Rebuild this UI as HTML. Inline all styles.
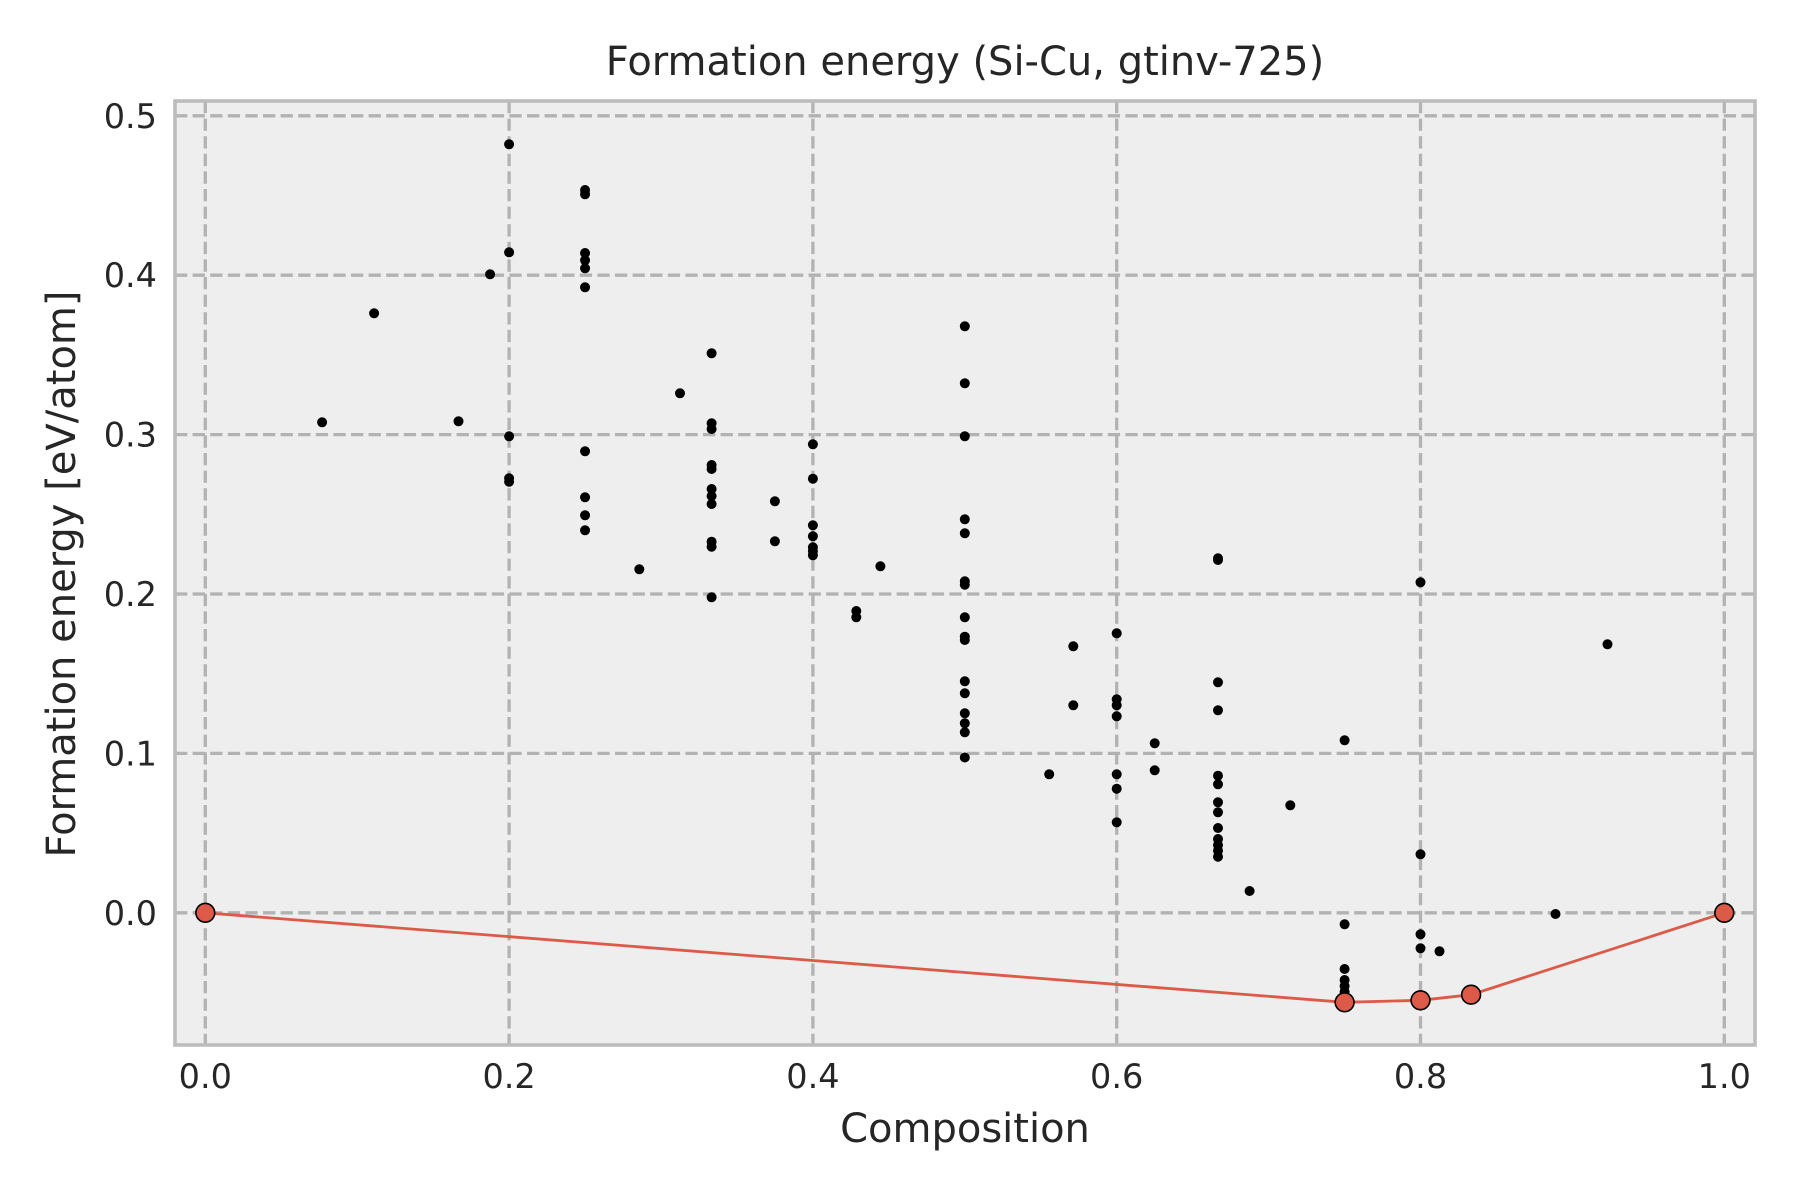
<!DOCTYPE html>
<html><head><meta charset="utf-8"><style>
html,body{margin:0;padding:0;background:#fff;}
svg{display:block;}
text{font-family:"DejaVu Sans","Liberation Sans",sans-serif;fill:#262626;}
</style></head><body>
<svg width="1800" height="1200" viewBox="0 0 1800 1200" xmlns="http://www.w3.org/2000/svg">
<rect x="0" y="0" width="1800" height="1200" fill="#fff"/>
<rect x="175" y="101" width="1580" height="944" fill="#eeeeee"/>
<g stroke="#b2b2b2" stroke-width="3.3" stroke-dasharray="12.3 5.3" fill="none">
<line x1="175" y1="912.8" x2="1755" y2="912.8"/>
<line x1="175" y1="753.4" x2="1755" y2="753.4"/>
<line x1="175" y1="594.0" x2="1755" y2="594.0"/>
<line x1="175" y1="434.6" x2="1755" y2="434.6"/>
<line x1="175" y1="275.2" x2="1755" y2="275.2"/>
<line x1="175" y1="115.8" x2="1755" y2="115.8"/>
<line x1="205.3" y1="101" x2="205.3" y2="1045"/>
<line x1="509.1" y1="101" x2="509.1" y2="1045"/>
<line x1="812.9" y1="101" x2="812.9" y2="1045"/>
<line x1="1116.7" y1="101" x2="1116.7" y2="1045"/>
<line x1="1420.5" y1="101" x2="1420.5" y2="1045"/>
<line x1="1724.3" y1="101" x2="1724.3" y2="1045"/>
</g>
<g stroke="#b5b5b5" stroke-width="2">
<line x1="205.3" y1="101" x2="205.3" y2="109"/><line x1="205.3" y1="1045" x2="205.3" y2="1037"/>
<line x1="509.1" y1="101" x2="509.1" y2="109"/><line x1="509.1" y1="1045" x2="509.1" y2="1037"/>
<line x1="812.9" y1="101" x2="812.9" y2="109"/><line x1="812.9" y1="1045" x2="812.9" y2="1037"/>
<line x1="1116.7" y1="101" x2="1116.7" y2="109"/><line x1="1116.7" y1="1045" x2="1116.7" y2="1037"/>
<line x1="1420.5" y1="101" x2="1420.5" y2="109"/><line x1="1420.5" y1="1045" x2="1420.5" y2="1037"/>
<line x1="1724.3" y1="101" x2="1724.3" y2="109"/><line x1="1724.3" y1="1045" x2="1724.3" y2="1037"/>
<line x1="175" y1="912.8" x2="183" y2="912.8"/><line x1="1755" y1="912.8" x2="1747" y2="912.8"/>
<line x1="175" y1="753.4" x2="183" y2="753.4"/><line x1="1755" y1="753.4" x2="1747" y2="753.4"/>
<line x1="175" y1="594.0" x2="183" y2="594.0"/><line x1="1755" y1="594.0" x2="1747" y2="594.0"/>
<line x1="175" y1="434.6" x2="183" y2="434.6"/><line x1="1755" y1="434.6" x2="1747" y2="434.6"/>
<line x1="175" y1="275.2" x2="183" y2="275.2"/><line x1="1755" y1="275.2" x2="1747" y2="275.2"/>
<line x1="175" y1="115.8" x2="183" y2="115.8"/><line x1="1755" y1="115.8" x2="1747" y2="115.8"/>
</g>
<g fill="#000">
<circle cx="322.1" cy="422.3" r="5"/>
<circle cx="374.1" cy="313.3" r="5"/>
<circle cx="458.5" cy="421.3" r="5"/>
<circle cx="490.1" cy="274.3" r="5"/>
<circle cx="509.1" cy="144.3" r="5"/><circle cx="509.1" cy="252.3" r="5"/><circle cx="509.1" cy="436.3" r="5"/><circle cx="509.1" cy="478.3" r="5"/><circle cx="509.1" cy="481.7" r="5"/>
<circle cx="585.05" cy="190" r="5"/><circle cx="585.05" cy="194.3" r="5"/><circle cx="585.05" cy="253" r="5"/><circle cx="585.05" cy="260.3" r="5"/><circle cx="585.05" cy="268.3" r="5"/><circle cx="585.05" cy="287.3" r="5"/><circle cx="585.05" cy="451.3" r="5"/><circle cx="585.05" cy="497.3" r="5"/><circle cx="585.05" cy="515.3" r="5"/><circle cx="585.05" cy="530.3" r="5"/>
<circle cx="639.3" cy="569.3" r="5"/>
<circle cx="680.0" cy="393.3" r="5"/>
<circle cx="711.6" cy="353.3" r="5"/><circle cx="711.6" cy="423.3" r="5"/><circle cx="711.6" cy="429" r="5"/><circle cx="711.6" cy="465" r="5"/><circle cx="711.6" cy="469" r="5"/><circle cx="711.6" cy="489" r="5"/><circle cx="711.6" cy="496" r="5"/><circle cx="711.6" cy="504" r="5"/><circle cx="711.6" cy="541.7" r="5"/><circle cx="711.6" cy="546.7" r="5"/><circle cx="711.6" cy="597.3" r="5"/>
<circle cx="774.9" cy="501.3" r="5"/><circle cx="774.9" cy="541.3" r="5"/>
<circle cx="812.9" cy="444.3" r="5"/><circle cx="812.9" cy="478.7" r="5"/><circle cx="812.9" cy="525.3" r="5"/><circle cx="812.9" cy="536.3" r="5"/><circle cx="812.9" cy="547.3" r="5"/><circle cx="812.9" cy="551" r="5"/><circle cx="812.9" cy="555.3" r="5"/>
<circle cx="856.3" cy="611" r="5"/><circle cx="856.3" cy="617.3" r="5"/>
<circle cx="880.4" cy="566.3" r="5"/>
<circle cx="964.8" cy="326.3" r="5"/><circle cx="964.8" cy="383.3" r="5"/><circle cx="964.8" cy="436.3" r="5"/><circle cx="964.8" cy="519.3" r="5"/><circle cx="964.8" cy="533.3" r="5"/><circle cx="964.8" cy="581.3" r="5"/><circle cx="964.8" cy="584.7" r="5"/><circle cx="964.8" cy="617.3" r="5"/><circle cx="964.8" cy="636.7" r="5"/><circle cx="964.8" cy="640" r="5"/><circle cx="964.8" cy="681.3" r="5"/><circle cx="964.8" cy="693.3" r="5"/><circle cx="964.8" cy="713.3" r="5"/><circle cx="964.8" cy="723.3" r="5"/><circle cx="964.8" cy="732.3" r="5"/><circle cx="964.8" cy="757.5" r="5"/>
<circle cx="1049.2" cy="774.3" r="5"/>
<circle cx="1073.3" cy="646.3" r="5"/><circle cx="1073.3" cy="705.3" r="5"/>
<circle cx="1116.7" cy="633.3" r="5"/><circle cx="1116.7" cy="699.3" r="5"/><circle cx="1116.7" cy="705.3" r="5"/><circle cx="1116.7" cy="716.3" r="5"/><circle cx="1116.7" cy="774.3" r="5"/><circle cx="1116.7" cy="788.7" r="5"/><circle cx="1116.7" cy="822.3" r="5"/>
<circle cx="1154.7" cy="743.3" r="5"/><circle cx="1154.7" cy="770.3" r="5"/>
<circle cx="1218.0" cy="558.3" r="5"/><circle cx="1218.0" cy="560" r="5"/><circle cx="1218.0" cy="682.3" r="5"/><circle cx="1218.0" cy="710.3" r="5"/><circle cx="1218.0" cy="775.7" r="5"/><circle cx="1218.0" cy="784.3" r="5"/><circle cx="1218.0" cy="802.3" r="5"/><circle cx="1218.0" cy="812.3" r="5"/><circle cx="1218.0" cy="828" r="5"/><circle cx="1218.0" cy="839" r="5"/><circle cx="1218.0" cy="845" r="5"/><circle cx="1218.0" cy="850.7" r="5"/><circle cx="1218.0" cy="856.7" r="5"/>
<circle cx="1249.6" cy="891" r="5"/>
<circle cx="1290.3" cy="805.3" r="5"/>
<circle cx="1344.6" cy="740.3" r="5"/><circle cx="1344.6" cy="924.3" r="5"/><circle cx="1344.6" cy="969" r="5"/><circle cx="1344.6" cy="980" r="5"/><circle cx="1344.6" cy="986" r="5"/><circle cx="1344.6" cy="991.7" r="5"/>
<circle cx="1420.5" cy="582.3" r="5"/><circle cx="1420.5" cy="854.3" r="5"/><circle cx="1420.5" cy="934.3" r="5"/><circle cx="1420.5" cy="948.3" r="5"/>
<circle cx="1439.5" cy="951.3" r="5"/>
<circle cx="1555.5" cy="914" r="5"/>
<circle cx="1607.5" cy="644.3" r="5"/>
</g>
<polyline points="205.3,912.8 1344.6,1002.3 1420.5,1000.3 1471.1,994.7 1724.3,912.8" fill="none" stroke="#dd5a48" stroke-width="2.8"/>
<g fill="#dd5a48" stroke="#000" stroke-width="1.6">
<circle cx="205.3" cy="912.8" r="9.4"/>
<circle cx="1344.6" cy="1002.3" r="9.4"/>
<circle cx="1420.5" cy="1000.3" r="9.4"/>
<circle cx="1471.1" cy="994.7" r="9.4"/>
<circle cx="1724.3" cy="912.8" r="9.4"/>
</g>
<rect x="175" y="101" width="1580" height="944" fill="none" stroke="#bcbcbc" stroke-width="3.6"/>
<g font-size="33.5" text-anchor="middle">
<text x="205.3" y="1088">0.0</text>
<text x="509.1" y="1088">0.2</text>
<text x="812.9" y="1088">0.4</text>
<text x="1116.7" y="1088">0.6</text>
<text x="1420.5" y="1088">0.8</text>
<text x="1724.3" y="1088">1.0</text>
</g>
<g font-size="33.5" text-anchor="end">
<text x="157" y="924.8">0.0</text>
<text x="157" y="765.4">0.1</text>
<text x="157" y="606.0">0.2</text>
<text x="157" y="446.6">0.3</text>
<text x="157" y="287.2">0.4</text>
<text x="157" y="127.8">0.5</text>
</g>
<text x="965" y="75" font-size="40" text-anchor="middle">Formation energy (Si-Cu, gtinv-725)</text>
<text x="965" y="1142" font-size="40" text-anchor="middle">Composition</text>
<text transform="translate(75,574) rotate(-90)" font-size="40" text-anchor="middle">Formation energy [eV/atom]</text>
</svg>
</body></html>
